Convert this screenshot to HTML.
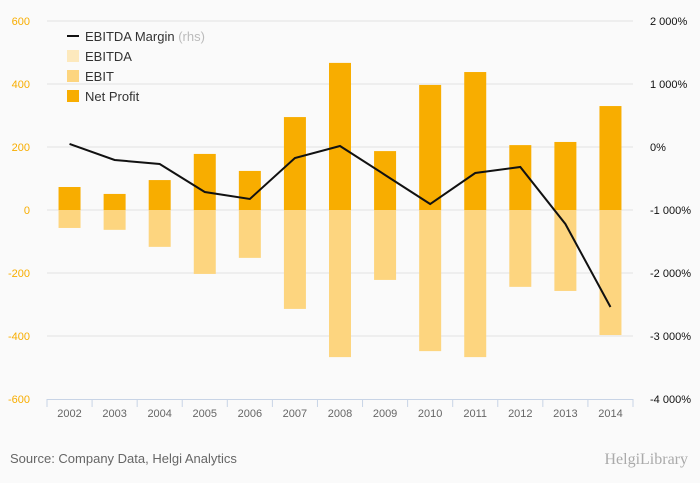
<!DOCTYPE html>
<html><head><meta charset="utf-8"><style>
body{margin:0;background:#fafafa;font-family:"Liberation Sans",sans-serif;}
svg{display:block}
</style></head><body>
<svg id="c" width="700" height="483" xmlns="http://www.w3.org/2000/svg">
<rect width="700" height="483" fill="#fafafa"/>
<g id="grid"></g><g id="bars"></g><g id="line"></g><g id="axes"></g>
<g font-size="13" fill="#333">
 <line x1="67" y1="36" x2="79" y2="36" stroke="#111" stroke-width="2"/>
 <text x="85" y="41">EBITDA Margin <tspan fill="#bbb">(rhs)</tspan></text>
 <rect x="67" y="50" width="12" height="12" fill="#fde9bd"/><text x="85" y="61">EBITDA</text>
 <rect x="67" y="70" width="12" height="12" fill="#fdd57f"/><text x="85" y="81">EBIT</text>
 <rect x="67" y="90" width="12" height="12" fill="#f8ad00"/><text x="85" y="101">Net Profit</text>
</g>
<text x="10" y="463" font-size="13" fill="#666">Source: Company Data, Helgi Analytics</text>
<text x="688" y="464" font-size="16" fill="#aaa" text-anchor="end" font-family="Liberation Serif,serif">HelgiLibrary</text>
</svg>
<script>
const years=["2002","2003","2004","2005","2006","2007","2008","2009","2010","2011","2012","2013","2014"];
const netProfit=[73,51,95,178,124,295,467,187,397,438,206,216,330];
const ebit=[-57,-63,-117,-203,-152,-314,-467,-222,-448,-467,-244,-257,-397];
const margin=[48,-206,-270,-714,-825,-175,16,-444,-905,-413,-317,-1222,-2540];
const leftTicks=[600,400,200,0,-200,-400,-600];
const rightTicks=[2000,1000,0,-1000,-2000,-3000,-4000];
const NS="http://www.w3.org/2000/svg";
const x0=47,x1=633,bw=(x1-x0)/years.length;
const yL=v=>210-v*0.315;
const yR=v=>147-v*0.063;
const xc=i=>x0+bw*(i+0.5);
function mk(t,a,p){const e=document.createElementNS(NS,t);for(const k in a)e.setAttribute(k,a[k]);p.appendChild(e);return e;}
const grid=document.getElementById('grid'),axes=document.getElementById('axes'),bars=document.getElementById('bars'),line=document.getElementById('line');
leftTicks.forEach((v,i)=>{
 if(v!==-600){const g=mk('line',{x1:x0,x2:x1,y1:yL(v),y2:yL(v),stroke:'#e3e3e3'},grid);
 
 }
 const t=mk('text',{x:30,y:yL(v)+4,'font-size':11,fill:'#f8ad00','text-anchor':'end'},axes);t.textContent=v;
 
 
});
rightTicks.forEach(v=>{
 const t=mk('text',{x:650,y:yR(v)+4,'font-size':11,fill:'#111'},axes);t.textContent=(v===0?'0':v.toLocaleString('en-US').replace(',',' '))+'%';
 
 
});
mk('line',{x1:x0,x2:x1,y1:399.5,y2:399.5,stroke:'#c8d4e6'},axes);
for(let i=0;i<=years.length;i++){mk('line',{x1:x0+bw*i,x2:x0+bw*i,y1:399,y2:407,stroke:'#c8d4e6'},axes);}
years.forEach((y,i)=>{
 const t=mk('text',{x:xc(i),y:417,'font-size':11,fill:'#666','text-anchor':'middle'},axes);t.textContent=y;
 
 
 const b=mk('rect',{x:xc(i)-11,y:yL(netProfit[i]),width:22,height:yL(0)-yL(netProfit[i]),fill:'#f8ad00'},bars);
 
 
 const e=mk('rect',{x:xc(i)-11,y:yL(0),width:22,height:yL(ebit[i])-yL(0),fill:'#fdd57f'},bars);
 
 
});
const p=mk('polyline',{points:margin.map((v,i)=>xc(i)+','+yR(v)).join(' '),fill:'none',stroke:'#111','stroke-width':2},line);


</script>
</body></html>
